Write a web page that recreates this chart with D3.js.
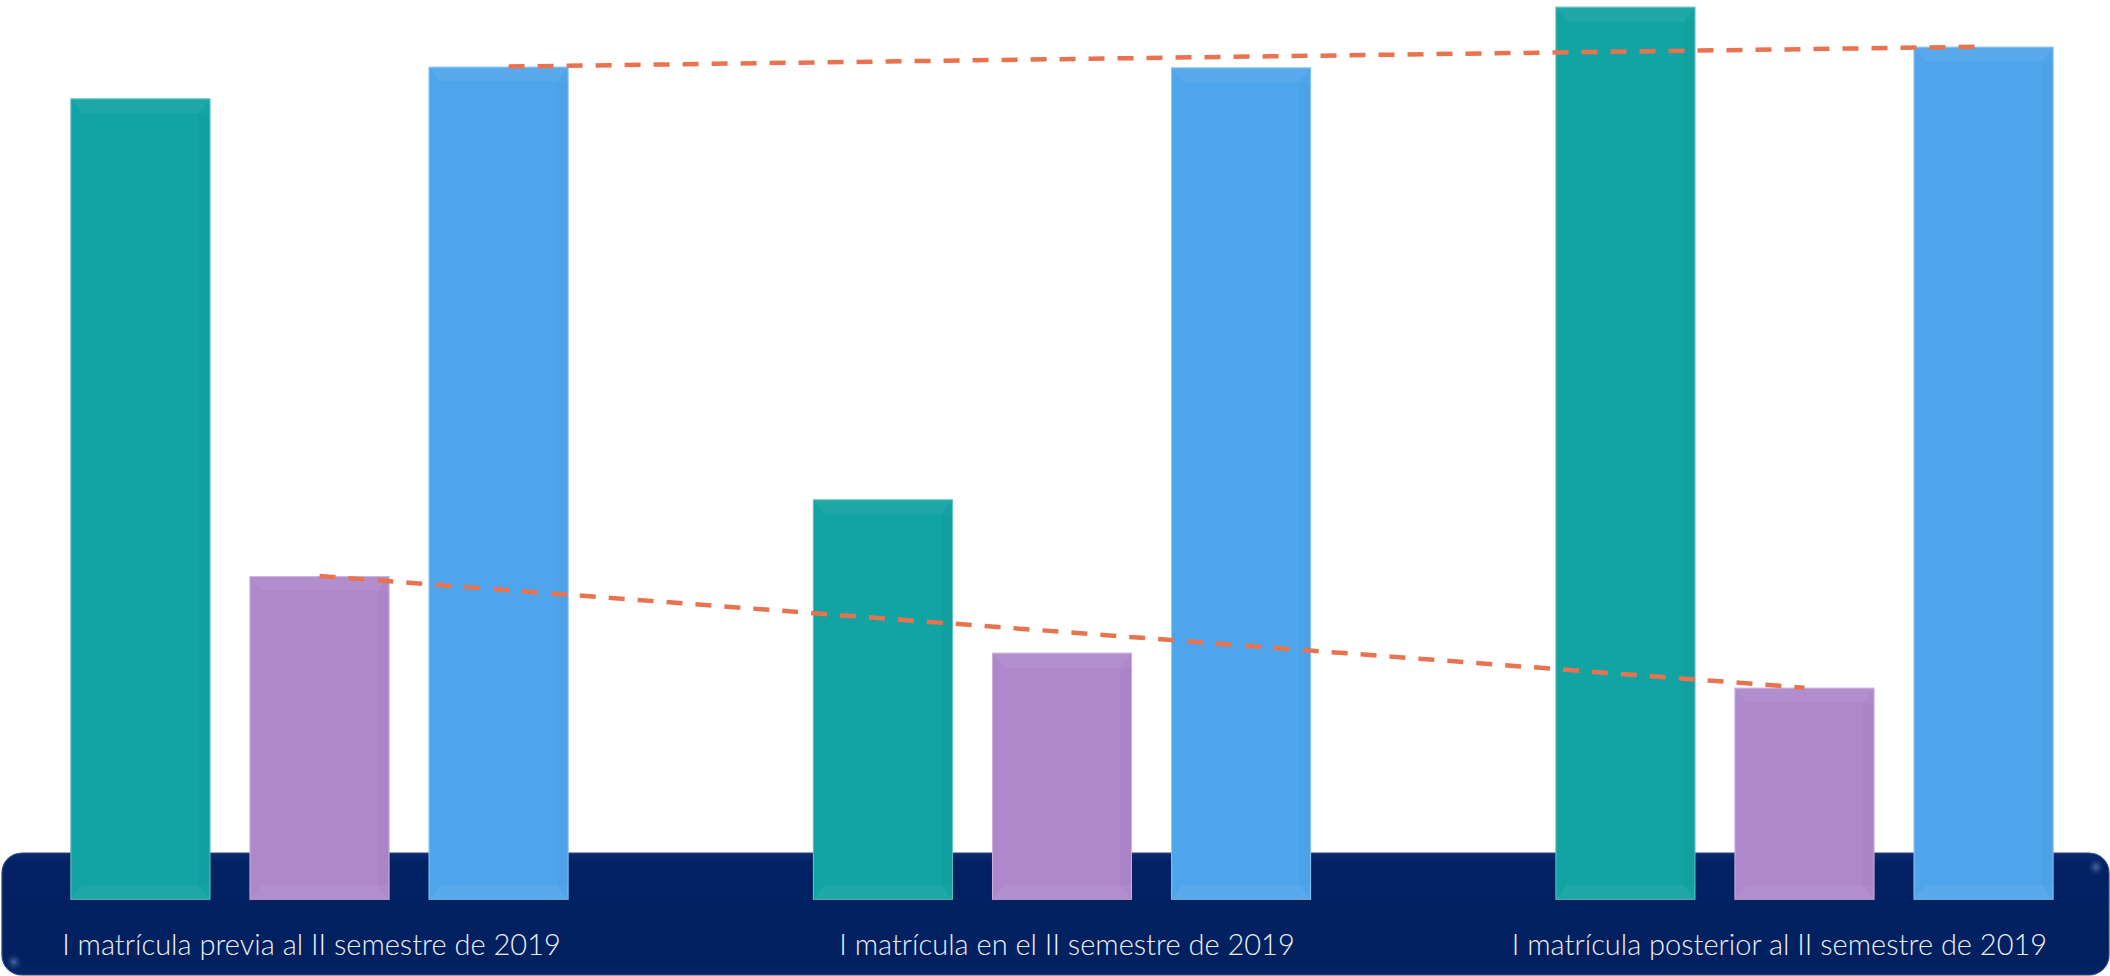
<!DOCTYPE html>
<html>
<head>
<meta charset="utf-8">
<script src="https://cdn.jsdelivr.net/npm/d3@7/dist/d3.min.js"></script>
<style>
  html, body { margin: 0; padding: 0; background: #ffffff; }
  svg { display: block; }
</style>
</head>
<body>
<svg id="chart" width="2110" height="976"></svg>
<script>
// ---------- data ----------
const categories = [
  "I matrícula previa al II semestre de 2019",
  "I matrícula en el II semestre de 2019",
  "I matrícula posterior al II semestre de 2019"
];
const seriesNames = ["Serie 1", "Serie 2", "Serie 3"];
const serie1 = [801.7, 400.7, 893.3];   // teal
const serie2 = [324.0, 247.3, 212.3];   // purple
const serie3 = [833.3, 832.7, 853.3];   // blue
const seriesColors = ["#12A3A3", "#AF87CB", "#4EA5EC"];
const trendSeries = [2, 1];             // dashed lines on blue and purple series

// ---------- layout ----------
const W = 2110, H = 976;
const margin = { left: 70.4, right: 56.4, top: 0, bottom: 76 };
const baseY = H - margin.bottom;   // bar baseline
const labelShift = [-8, 5, -25];   // small label placement tweaks
const dashOffsets = { 2: 19, 1: 0 };

const svg = d3.select("#chart");
const defs = svg.append("defs");

const values = [serie1, serie2, serie3];

const x = d3.scaleBand()
  .domain(categories)
  .range([margin.left, W - margin.right])
  .paddingInner(0.329)
  .paddingOuter(0);

const xs = d3.scaleBand()
  .domain(seriesNames)
  .range([0, x.bandwidth()])
  .paddingInner(0.218);

const y = d3.scaleLinear()
  .domain([0, 900])
  .range([baseY, baseY - 900]);

// ---------- bottom band ----------
const bandGrad = defs.append("linearGradient")
  .attr("id", "bandGrad").attr("x1", 0).attr("y1", 0).attr("x2", 0).attr("y2", 1);
bandGrad.append("stop").attr("offset", "0%").attr("stop-color", "#0b2c6e");
bandGrad.append("stop").attr("offset", "8%").attr("stop-color", "#032263");
bandGrad.append("stop").attr("offset", "90%").attr("stop-color", "#002060");
bandGrad.append("stop").attr("offset", "100%").attr("stop-color", "#062666");

const glow = defs.append("radialGradient").attr("id", "cornerGlow");
glow.append("stop").attr("offset", "0%").attr("stop-color", "#6f86c0").attr("stop-opacity", 0.7);
glow.append("stop").attr("offset", "100%").attr("stop-color", "#002060").attr("stop-opacity", 0);

const bandTop = 853;
svg.append("rect")
  .attr("x", 2).attr("y", bandTop)
  .attr("width", W - 3).attr("height", H - bandTop - 1)
  .attr("rx", 20).attr("ry", 20)
  .attr("fill", "url(#bandGrad)")
  .attr("stroke", "#2a4684").attr("stroke-width", 1.2);

svg.append("ellipse").attr("cx", 14).attr("cy", H - 14).attr("rx", 10).attr("ry", 10)
  .attr("fill", "url(#cornerGlow)");
svg.append("ellipse").attr("cx", W - 14).attr("cy", bandTop + 14).attr("rx", 10).attr("ry", 10)
  .attr("fill", "url(#cornerGlow)");

// ---------- bars ----------
const groups = svg.append("g").selectAll("g")
  .data(categories)
  .join("g")
  .attr("transform", d => `translate(${x(d)},0)`);

const barData = (c, i) => seriesNames.map((s, k) => ({ s, k, v: values[k][i] }));

const bars = groups.selectAll("g.bar")
  .data((c, i) => barData(c, i))
  .join("g").attr("class", "bar");

bars.append("rect")
  .attr("x", d => xs(d.s))
  .attr("y", d => y(d.v))
  .attr("width", xs.bandwidth())
  .attr("height", d => baseY - y(d.v))
  .attr("fill", d => seriesColors[d.k]);

const bev = 12, bevH = 15;
bars.append("path")
  .attr("d", d => {
    const x0 = xs(d.s), x1 = x0 + xs.bandwidth(), t = y(d.v);
    return `M${x0},${t} L${x1},${t} L${x1 - bev},${t + bevH} L${x0 + bev},${t + bevH} Z`;
  })
  .attr("fill", "#ffffff").attr("opacity", 0.06);
bars.append("path")
  .attr("d", d => {
    const x0 = xs(d.s), x1 = x0 + xs.bandwidth(), b = baseY;
    return `M${x0},${b} L${x1},${b} L${x1 - bev},${b - bevH} L${x0 + bev},${b - bevH} Z`;
  })
  .attr("fill", "#ffffff").attr("opacity", 0.06);
bars.append("rect")
  .attr("x", d => xs(d.s) + xs.bandwidth() - bev)
  .attr("y", d => y(d.v) + bevH)
  .attr("width", bev)
  .attr("height", d => Math.max(0, baseY - y(d.v) - 2 * bevH))
  .attr("fill", "#000000").attr("opacity", 0.02);
bars.append("rect")
  .attr("x", d => xs(d.s) + 0.5)
  .attr("y", d => y(d.v) + 0.5)
  .attr("width", xs.bandwidth() - 1)
  .attr("height", d => baseY - y(d.v) - 1)
  .attr("fill", "none")
  .attr("stroke", "#ffffff").attr("stroke-opacity", 0.35).attr("stroke-width", 1);
bars.append("line")
  .attr("x1", d => xs(d.s)).attr("x2", d => xs(d.s) + xs.bandwidth())
  .attr("y1", baseY - 0.5).attr("y2", baseY - 0.5)
  .attr("stroke", "#000000").attr("stroke-opacity", 0.18);

// ---------- dashed lines (first to last value of series) ----------
const cx = (i, k) => x(categories[i]) + xs(seriesNames[k]) + xs.bandwidth() / 2;
trendSeries.forEach(k => {
  const n = categories.length - 1;
  const pts = [[cx(0, k), y(values[k][0])], [cx(n, k), y(values[k][n])]];
  svg.append("path")
    .attr("d", d3.line()(pts))
    .attr("fill", "none")
    .attr("stroke", "#E9724F")
    .attr("stroke-width", 4.5)
    .attr("stroke-dasharray", "16,13")
    .attr("stroke-dashoffset", dashOffsets[k]);
});

// ---------- category labels ----------
svg.append("g").selectAll("text")
  .data(categories)
  .join("text")
  .attr("x", (d, i) => x(d) + x.bandwidth() / 2 + labelShift[i])
  .attr("y", 955)
  .attr("text-anchor", "middle")
  .attr("fill", "#EFEFF2")
  .style("font-family", "Lato, 'Noto Sans', sans-serif")
  .style("font-weight", 300)
  .style("font-size", "29px")
  .text(d => d);
</script>
</body>
</html>
